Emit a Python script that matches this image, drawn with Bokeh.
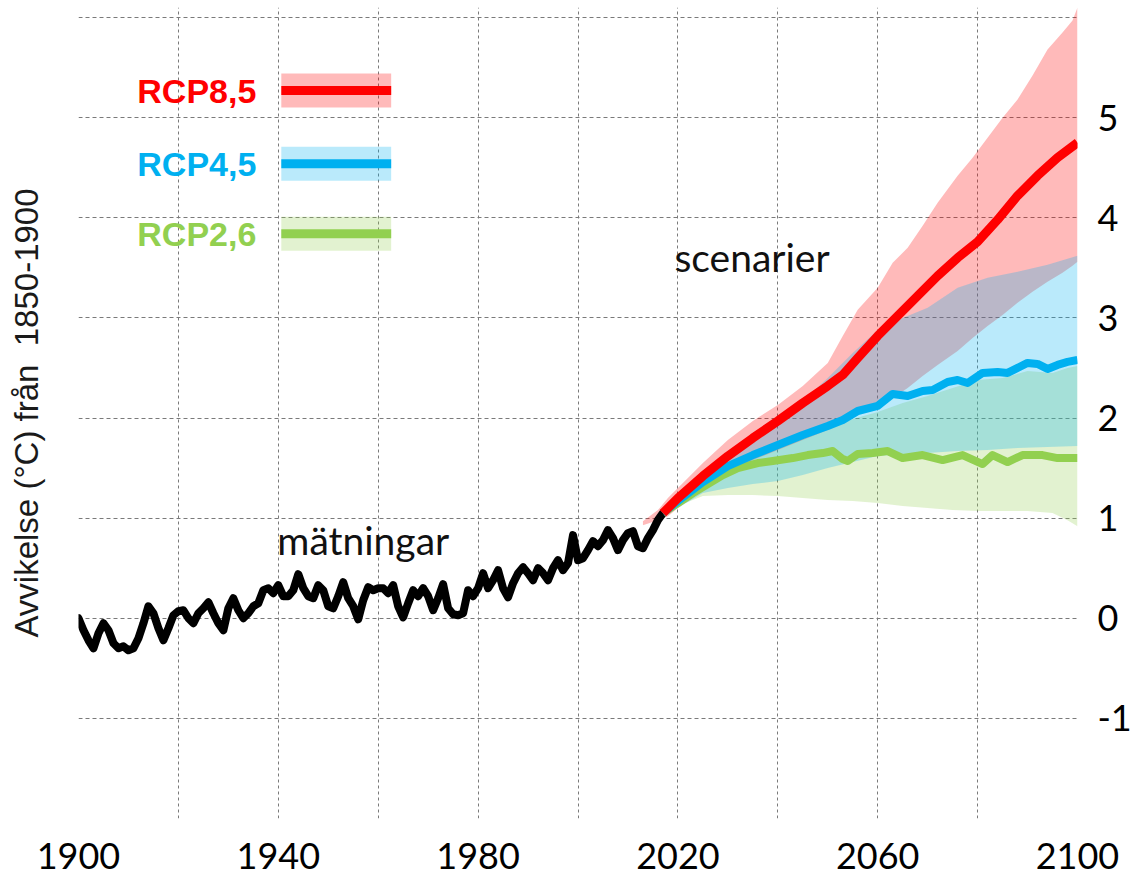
from bokeh.plotting import figure
from bokeh.models import Range1d, FixedTicker, LinearAxis
from bokeh.core.properties import value
from bokeh.embed import file_html
from bokeh.resources import INLINE

# ---------------- data ----------------
obs_start_year = 1900
obs_values = [
    0.00, -0.12, -0.22, -0.30, -0.15, -0.05, -0.12, -0.25, -0.30, -0.28,   # 1900s
    -0.32, -0.30, -0.20, -0.05, 0.12, 0.05, -0.10, -0.22, -0.10, 0.03,     # 1910s
    0.07, 0.08, 0.00, -0.05, 0.05, 0.10, 0.16, 0.05, -0.05, -0.12,         # 1920s
    0.10, 0.20, 0.08, 0.00, 0.05, 0.12, 0.15, 0.28, 0.30, 0.25,            # 1930s
    0.33, 0.22, 0.22, 0.28, 0.44, 0.30, 0.22, 0.20, 0.33, 0.28,            # 1940s
    0.12, 0.10, 0.22, 0.36, 0.20, 0.12, -0.01, 0.18, 0.31, 0.28,           # 1950s
    0.30, 0.30, 0.25, 0.33, 0.12, 0.01, 0.15, 0.28, 0.22, 0.30,            # 1960s
    0.22, 0.08, 0.20, 0.34, 0.10, 0.04, 0.03, 0.05, 0.28, 0.22,            # 1970s
    0.30, 0.45, 0.30, 0.38, 0.48, 0.30, 0.21, 0.35, 0.45, 0.51,            # 1980s
    0.45, 0.38, 0.50, 0.45, 0.38, 0.50, 0.58, 0.48, 0.55, 0.83,            # 1990s
    0.58, 0.60, 0.68, 0.77, 0.72, 0.78, 0.88, 0.80, 0.68, 0.78,            # 2000s
    0.85, 0.87, 0.72, 0.70, 0.80, 0.88, 0.98, 1.05,                        # 2010s
]
obs_years = [obs_start_year + i for i in range(len(obs_values))]

# RCP8.5
red_mean_years = [2017, 2020, 2025, 2030, 2035, 2040, 2045, 2050, 2053, 2056, 2060,
                  2064, 2068, 2072, 2076, 2080, 2084, 2088, 2092, 2096, 2100]
red_mean = [1.05, 1.20, 1.42, 1.62, 1.80, 1.97, 2.15, 2.32, 2.43, 2.60, 2.82,
            3.02, 3.22, 3.42, 3.60, 3.76, 3.98, 4.22, 4.42, 4.60, 4.75]
red_band_years = [2013, 2016, 2018, 2020, 2025, 2030, 2035, 2040, 2045, 2050, 2053, 2056,
                  2060, 2063, 2066, 2069, 2072, 2076, 2079, 2082, 2085, 2088, 2091, 2094,
                  2097, 2099, 2100]
red_band_high = [0.97, 1.08, 1.20, 1.30, 1.55, 1.78, 1.97, 2.13, 2.32, 2.55, 2.82, 3.08,
                 3.30, 3.55, 3.70, 3.92, 4.15, 4.42, 4.60, 4.80, 5.00, 5.18, 5.42, 5.68,
                 5.85, 5.97, 6.10]
red_band_low = [0.93, 0.98, 1.02, 1.10, 1.28, 1.45, 1.58, 1.68, 1.78, 1.88, 1.95, 2.04,
                2.12, 2.20, 2.30, 2.42, 2.53, 2.67, 2.80, 2.92, 3.03, 3.15, 3.26, 3.36,
                3.45, 3.52, 3.56]

# RCP4.5
blue_mean_years = [2017, 2020, 2025, 2030, 2035, 2040, 2045, 2050, 2053, 2056, 2060, 2063,
                   2066, 2069, 2071, 2074, 2076, 2078, 2081, 2084, 2086, 2088, 2090, 2092,
                   2094, 2096, 2098, 2100]
blue_mean = [1.05, 1.17, 1.36, 1.52, 1.63, 1.73, 1.83, 1.92, 1.98, 2.07, 2.12, 2.24,
             2.22, 2.27, 2.28, 2.36, 2.38, 2.35, 2.45, 2.46, 2.45, 2.50, 2.55, 2.54,
             2.49, 2.53, 2.56, 2.58]
blue_band_years = [2017, 2020, 2025, 2030, 2035, 2040, 2045, 2050, 2055, 2060, 2065, 2070,
                   2076, 2082, 2088, 2094, 2100]
blue_band_high = [1.06, 1.20, 1.42, 1.62, 1.80, 1.97, 2.17, 2.40, 2.65, 2.88, 3.00, 3.10,
                  3.30, 3.40, 3.46, 3.53, 3.62]
blue_band_low = [1.04, 1.10, 1.25, 1.30, 1.34, 1.37, 1.43, 1.50, 1.56, 1.62, 1.64, 1.65,
                 1.67, 1.68, 1.70, 1.71, 1.72]

# RCP2.6
green_mean_years = [2017, 2020, 2023, 2026, 2029, 2032, 2036, 2039, 2043, 2046, 2049, 2051,
                    2053, 2054, 2056, 2059, 2062, 2065, 2069, 2073, 2077, 2081, 2083, 2086,
                    2089, 2093, 2096, 2100]
green_mean = [1.05, 1.15, 1.25, 1.34, 1.43, 1.50, 1.55, 1.57, 1.60, 1.63, 1.65, 1.67,
              1.59, 1.57, 1.64, 1.65, 1.67, 1.60, 1.63, 1.58, 1.63, 1.54, 1.63, 1.56,
              1.63, 1.63, 1.60, 1.60]
green_band_years = [2017, 2020, 2025, 2030, 2035, 2040, 2045, 2050, 2055, 2060, 2065, 2070,
                    2075, 2080, 2085, 2090, 2095, 2098, 2100]
green_band_high = [1.06, 1.17, 1.33, 1.49, 1.60, 1.70, 1.79, 1.88, 1.99, 2.06, 2.15, 2.22,
                   2.30, 2.38, 2.40, 2.47, 2.45, 2.50, 2.52]
green_band_low = [1.04, 1.12, 1.22, 1.23, 1.23, 1.22, 1.20, 1.18, 1.17, 1.15, 1.12, 1.10,
                  1.08, 1.07, 1.07, 1.07, 1.05, 0.98, 0.92]

scenario_names = ["RCP8,5", "RCP4,5", "RCP2,6"]
x_ticks = [1900, 1920, 1940, 1960, 1980, 2000, 2020, 2040, 2060, 2080, 2100]
x_tick_labels = ["1900", "", "1940", "", "1980", "", "2020", "", "2060", "", "2100"]
y_ticks = [-2, -1, 0, 1, 2, 3, 4, 5, 6]
y_tick_labels = ["", "-1", "0", "1", "2", "3", "4", "5", ""]
y_title = "Avvikelse (°C) från\u00a0 1850-1900"

# ---------------- styles / layout ----------------
RED, BLUE, GREEN = "#FF0000", "#00B0F0", "#92D050"
colors = [RED, BLUE, GREEN]
BAND_ALPHA = 0.27
legend_text_x = 1935.6
legend_x0, legend_x1 = 1940.6, 1962.6
legend_y = [5.27, 4.54, 3.84]
legend_half = 0.17
note_obs = (1939.8, 0.78)
note_scen = (2019.3, 3.61)

p = figure(width=1135, height=877,
           x_range=Range1d(1900, 2100), y_range=Range1d(-2, 6.1),
           output_backend="svg", toolbar_location=None,
           y_axis_location="right",
           min_border_left=78, min_border_right=58,
           min_border_top=7, min_border_bottom=59)
p.outline_line_color = None
p.background_fill_color = "white"

xt = FixedTicker(ticks=x_ticks)
yt = FixedTicker(ticks=y_ticks)
p.xaxis.ticker = xt
p.yaxis.ticker = yt
p.xgrid.ticker = xt
p.ygrid.ticker = yt
p.xaxis.major_label_overrides = {t: l for t, l in zip(x_ticks, x_tick_labels)}
p.yaxis.major_label_overrides = {t: l for t, l in zip(y_ticks, y_tick_labels)}

for ax in (p.xaxis[0], p.yaxis[0]):
    ax.axis_line_color = None
    ax.major_tick_line_color = None
    ax.minor_tick_line_color = None
    ax.major_tick_in = 0
    ax.major_tick_out = 0
    ax.major_label_text_font = "Lato"
    ax.major_label_text_font_size = "36px"
    ax.major_label_text_color = "black"
p.xaxis.major_label_standoff = 24
p.yaxis.major_label_standoff = 20

# left axis only carries the title text
left_axis = LinearAxis(ticker=FixedTicker(ticks=[]), axis_label=y_title,
                       axis_line_color=None, major_tick_line_color=None,
                       minor_tick_line_color=None, major_tick_in=0, major_tick_out=0,
                       major_label_text_font_size="0px", major_label_standoff=0,
                       axis_label_text_font="Liberation Sans",
                       axis_label_text_font_size="33px",
                       axis_label_text_font_style="normal",
                       axis_label_text_color="#1a1a1a",
                       axis_label_standoff=34)
p.add_layout(left_axis, "left")

p.xgrid.grid_line_color = "#7a7a7a"
p.xgrid.grid_line_dash = "3 3"
p.xgrid.grid_line_width = 1
p.ygrid.grid_line_color = "#7a7a7a"
p.ygrid.grid_line_dash = "4 3"
p.ygrid.grid_line_width = 1

# bands
p.varea(x=green_band_years, y1=green_band_low, y2=green_band_high,
        fill_color=GREEN, fill_alpha=BAND_ALPHA)
p.varea(x=red_band_years, y1=red_band_low, y2=red_band_high,
        fill_color=RED, fill_alpha=BAND_ALPHA)
p.varea(x=blue_band_years, y1=blue_band_low, y2=blue_band_high,
        fill_color=BLUE, fill_alpha=BAND_ALPHA)

# observations
p.line(obs_years, obs_values, line_color="black", line_width=8,
       line_join="round", line_cap="round")

# scenario means
p.line(green_mean_years, green_mean, line_color=GREEN, line_width=8, line_join="round")
p.line(blue_mean_years, blue_mean, line_color=BLUE, line_width=8, line_join="round")
p.line(red_mean_years, red_mean, line_color=RED, line_width=9, line_join="round")

# legend-like key
p.quad(left=[legend_x0] * 3, right=[legend_x1] * 3,
       bottom=[y - legend_half for y in legend_y], top=[y + legend_half for y in legend_y],
       fill_color=colors, fill_alpha=BAND_ALPHA, line_color=None)
p.segment(x0=[legend_x0] * 3, y0=legend_y, x1=[legend_x1] * 3, y1=legend_y,
          line_color=colors, line_width=9)
p.text(x=[legend_text_x] * 3, y=legend_y, text=scenario_names, text_color=colors,
       text_font=value("Liberation Sans"), text_font_style="bold", text_font_size="34px",
       text_align="right", text_baseline="middle")

# notes
p.text(x=[note_obs[0], note_scen[0]], y=[note_obs[1], note_scen[1]],
       text=["mätningar", "scenarier"], text_color="#111111",
       text_font=value("Lato"), text_font_size="39px",
       text_align="left", text_baseline="alphabetic")

open("out.html", "w").write(file_html(p, INLINE))
